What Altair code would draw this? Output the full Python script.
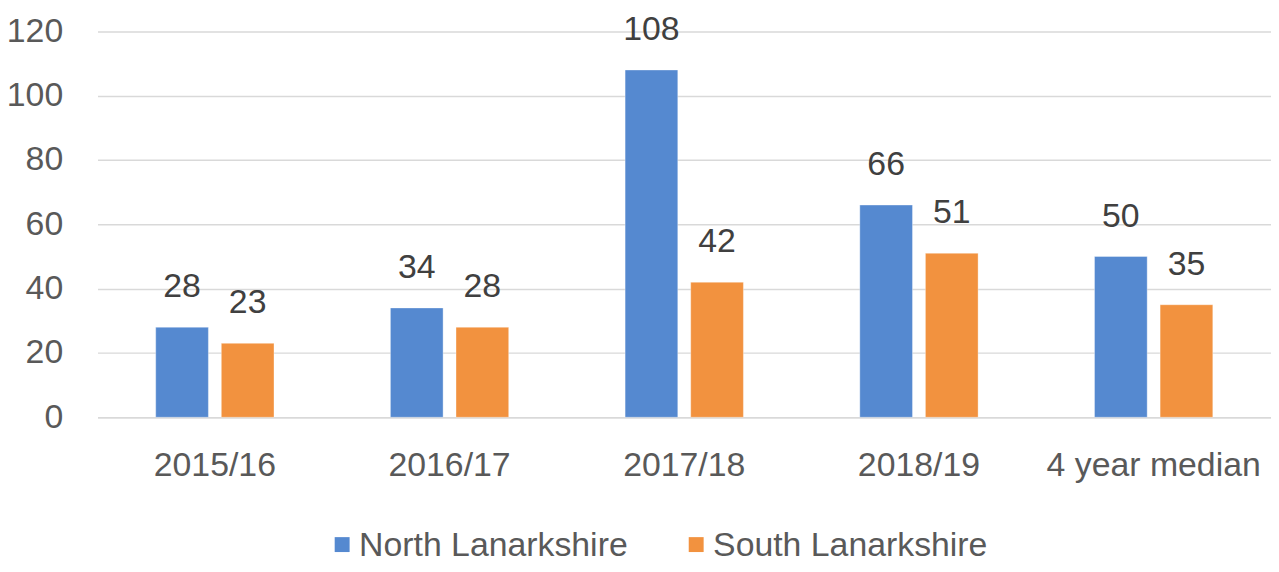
import altair as alt
import pandas as pd

categories = ["2015/16", "2016/17", "2017/18", "2018/19", "4 year median"]
series = ["North Lanarkshire", "South Lanarkshire"]
north = [28, 34, 108, 66, 50]
south = [23, 28, 42, 51, 35]
colors = ["#5589D0", "#F2923F"]

rows = []
for c, n, s in zip(categories, north, south):
    rows.append({"period": c, "area": series[0], "value": n})
    rows.append({"period": c, "area": series[1], "value": s})
df = pd.DataFrame(rows)

FONT = "Liberation Sans"
FS = 34

x_enc = alt.X(
    "period:N",
    sort=categories,
    scale=alt.Scale(paddingInner=0.496, paddingOuter=0.248),
    axis=alt.Axis(
        title=None, labelAngle=0, labelFontSize=FS, labelFont=FONT,
        labelColor="#595959", labelPadding=32, ticks=False, labelLimit=0,
        domainColor="#D9D9D9", domainWidth=1.5, grid=False,
    ),
)
xoff = alt.XOffset("area:N", sort=series, scale=alt.Scale(paddingInner=0.197, paddingOuter=0))
y_enc = alt.Y(
    "value:Q",
    scale=alt.Scale(domain=[0, 120], nice=False),
    axis=alt.Axis(
        title=None, values=[0, 20, 40, 60, 80, 100, 120], labelFontSize=FS,
        labelFont=FONT, labelColor="#595959", labelPadding=35, ticks=False,
        domain=False, gridColor="#D9D9D9", gridWidth=1.5,
    ),
)

bars = alt.Chart(df).mark_bar(stroke="white", strokeOpacity=0.35, strokeWidth=1).encode(
    x=x_enc,
    xOffset=xoff,
    y=y_enc,
    color=alt.Color(
        "area:N", sort=series,
        scale=alt.Scale(domain=series, range=colors),
        legend=alt.Legend(
            title=None, orient="none", legendX=229, legendY=500,
            direction="horizontal", labelFontSize=FS, labelFont=FONT,
            labelColor="#595959", labelOffset=0, labelLimit=0,
            symbolSize=225, symbolType="M-1,-1.13H1V0.87H-1Z",
            symbolStrokeWidth=0, columnPadding=51, padding=0,
        ),
    ),
)

labels = alt.Chart(df).mark_text(
    dy=-30, baseline="alphabetic", fontSize=FS, font=FONT, color="#404040"
).encode(
    x=alt.X("period:N", sort=categories),
    xOffset=alt.XOffset("area:N", sort=series),
    y="value:Q",
    text="value:Q",
)

chart = alt.layer(bars, labels).properties(
    width=1180, height=388,
    autosize=alt.AutoSizeParams(type="none"),
    padding={"left": 90, "top": 22, "right": 0, "bottom": 145},
).configure_view(stroke=None)

chart.save("out.html", embed_options={"renderer": "svg", "actions": False})
